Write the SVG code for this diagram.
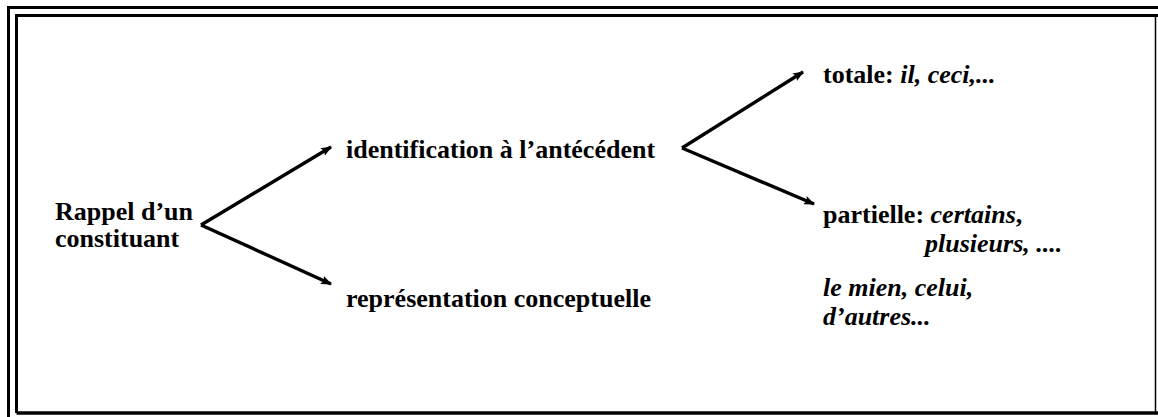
<svg xmlns="http://www.w3.org/2000/svg" width="1158" height="417" viewBox="0 0 1158 417">
<style>
text{font-family:"Liberation Serif","Times New Roman",serif;font-size:26px;font-weight:bold;fill:#000}
.i{font-style:italic}
.b{fill:none;stroke:#000}
.c{stroke:#000;stroke-width:3.4;fill:none;marker-end:url(#ah)}
</style>
<defs>
<marker id="ah" viewBox="0 0 10 8" refX="9" refY="4" markerWidth="11" markerHeight="9" markerUnits="userSpaceOnUse" orient="auto">
<path d="M0,0 L10,4 L0,8 L2,4 Z" fill="#000"/>
</marker>
</defs>
<rect width="1158" height="417" fill="#fff"/>
<g id="frame">
<path class="b" stroke-width="3" d="M8.5,417 V7.5 H1158"/>
<path class="b" stroke-width="3" d="M16.5,413 V15.5 H1158"/>
<path class="b" stroke-width="3.5" d="M16.5,413 H1158"/>
<path class="b" stroke-width="1.5" d="M1155.5,15 V413"/>
</g>
<g id="connectors">
<line class="c" x1="201" y1="225" x2="331" y2="147"/>
<line class="c" x1="201" y1="225" x2="331" y2="284"/>
<line class="c" x1="682" y1="148" x2="803" y2="72"/>
<line class="c" x1="682" y1="148" x2="814" y2="204"/>
</g>
<g id="n-rappel">
<text x="55" y="220">Rappel d’un<tspan x="55" dy="27">constituant</tspan></text>
</g>
<g id="n-identification">
<text x="346" y="158">identification à l’antécédent</text>
</g>
<g id="n-representation">
<text x="346" y="307">représentation conceptuelle</text>
</g>
<g id="n-totale">
<text x="823" y="83">totale: <tspan class="i">il, ceci,...</tspan></text>
</g>
<g id="n-partielle">
<text x="823" y="223">partielle: <tspan class="i">certains</tspan>,<tspan class="i" x="925" dy="29">plusieurs, ....</tspan></text>
</g>
<g id="n-lemien">
<text x="823" y="296" class="i">le mien, celui,<tspan x="823" dy="29">d’autres...</tspan></text>
</g>
</svg>
